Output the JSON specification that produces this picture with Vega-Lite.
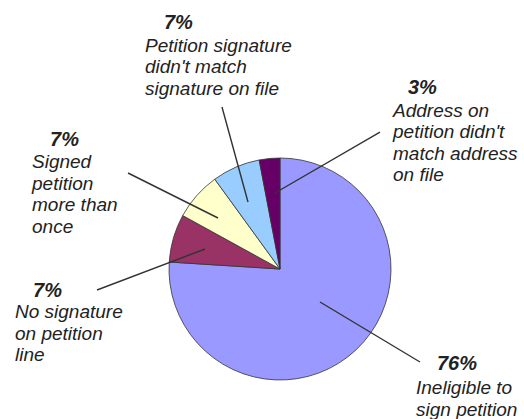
{
  "$schema": "https://vega.github.io/schema/vega-lite/v6.json",
  "width": 488,
  "height": 300,
  "padding": {"left": 36, "right": 0, "top": 119, "bottom": 0},
  "autosize": {"type": "none"},
  "background": "white",
  "config": {"view": {"stroke": null}},
  "data": {
    "values": [
      {"reason": "Ineligible to sign petition", "share": 0.76, "order": 1, "lines": ["Ineligible to", "sign petition"]},
      {"reason": "No signature on petition line", "share": 0.07, "order": 2, "lines": ["No signature", "on petition", "line"]},
      {"reason": "Signed petition more than once", "share": 0.07, "order": 3, "lines": ["Signed", "petition", "more than", "once"]},
      {"reason": "Petition signature didn't match signature on file", "share": 0.07, "order": 4, "lines": ["Petition signature", "didn't match", "signature on file"]},
      {"reason": "Address on petition didn't match address on file", "share": 0.03, "order": 5, "lines": ["Address on", "petition didn't", "match address", "on file"]}
    ]
  },
  "transform": [
    {"stack": "share", "groupby": [], "sort": [{"field": "order", "order": "ascending"}], "as": ["t0", "t1"]}
  ],
  "layer": [
    {
      "mark": {"type": "arc", "radius": 111, "stroke": "#333333", "strokeWidth": 0.8},
      "encoding": {
        "theta": {"field": "t0", "type": "quantitative", "stack": null, "scale": {"domain": [0, 1]}},
        "theta2": {"field": "t1"},
        "color": {
          "field": "reason", "type": "nominal", "legend": null,
          "scale": {
            "domain": ["Ineligible to sign petition", "No signature on petition line", "Signed petition more than once", "Petition signature didn't match signature on file", "Address on petition didn't match address on file"],
            "range": ["#9999FF", "#993366", "#FFFFCC", "#99CCFF", "#660066"]
          }
        }
      }
    },
    {
      "transform": [{"filter": "datum.order == 1"}],
      "layer": [
        {"mark": {"type": "arc", "filled": false, "stroke": "#333333", "strokeWidth": 1.4, "radius": 116.6, "radius2": 0, "thetaOffset": 2.1112, "theta2Offset": 2.1112, "xOffset": 40, "yOffset": 33},
         "encoding": {"theta": {"field": "t0", "type": "quantitative", "stack": null}, "theta2": {"field": "t0"}}},
        {"mark": {"type": "text", "radius": 111, "dx": 157, "dy": 212, "align": "left", "baseline": "alphabetic", "font": "Liberation Sans", "fontSize": 20, "fontWeight": "bold", "fontStyle": "italic", "fill": "#222222"},
         "encoding": {"theta": {"field": "t0", "type": "quantitative", "stack": null}, "text": {"field": "share", "format": ".0%"}}},
        {"mark": {"type": "text", "radius": 111, "dx": 136, "dy": 236, "align": "left", "baseline": "alphabetic", "font": "Liberation Sans", "fontSize": 19, "fontStyle": "italic", "lineHeight": 21.5, "fill": "#222222"},
         "encoding": {"theta": {"field": "t0", "type": "quantitative", "stack": null}, "text": {"field": "lines"}}}
      ]
    },
    {
      "transform": [{"filter": "datum.order == 2"}],
      "layer": [
        {"mark": {"type": "arc", "filled": false, "stroke": "#333333", "strokeWidth": 1.4, "radius": 115.5, "radius2": 0, "thetaOffset": -0.4259, "theta2Offset": -0.4259, "xOffset": -75, "yOffset": -20},
         "encoding": {"theta": {"field": "t0", "type": "quantitative", "stack": null}, "theta2": {"field": "t0"}}},
        {"mark": {"type": "text", "radius": 111, "dx": -136.2, "dy": 35, "align": "left", "baseline": "alphabetic", "font": "Liberation Sans", "fontSize": 20, "fontWeight": "bold", "fontStyle": "italic", "fill": "#222222"},
         "encoding": {"theta": {"field": "t0", "type": "quantitative", "stack": null}, "text": {"field": "share", "format": ".0%"}}},
        {"mark": {"type": "text", "radius": 111, "dx": -154.2, "dy": 56, "align": "left", "baseline": "alphabetic", "font": "Liberation Sans", "fontSize": 19, "fontStyle": "italic", "lineHeight": 21.5, "fill": "#222222"},
         "encoding": {"theta": {"field": "t0", "type": "quantitative", "stack": null}, "text": {"field": "lines"}}}
      ]
    },
    {
      "transform": [{"filter": "datum.order == 3"}],
      "layer": [
        {"mark": {"type": "arc", "filled": false, "stroke": "#333333", "strokeWidth": 1.4, "radius": 100.6, "radius2": 0, "thetaOffset": -0.0389, "theta2Offset": -0.0389, "xOffset": -62, "yOffset": -51},
         "encoding": {"theta": {"field": "t0", "type": "quantitative", "stack": null}, "theta2": {"field": "t0"}}},
        {"mark": {"type": "text", "radius": 111, "dx": -132.7, "dy": -69.5, "align": "left", "baseline": "alphabetic", "font": "Liberation Sans", "fontSize": 20, "fontWeight": "bold", "fontStyle": "italic", "fill": "#222222"},
         "encoding": {"theta": {"field": "t0", "type": "quantitative", "stack": null}, "text": {"field": "share", "format": ".0%"}}},
        {"mark": {"type": "text", "radius": 111, "dx": -150.7, "dy": -47.5, "align": "left", "baseline": "alphabetic", "font": "Liberation Sans", "fontSize": 19, "fontStyle": "italic", "lineHeight": 21.5, "fill": "#222222"},
         "encoding": {"theta": {"field": "t0", "type": "quantitative", "stack": null}, "text": {"field": "lines"}}}
      ]
    },
    {
      "transform": [{"filter": "datum.order == 4"}],
      "layer": [
        {"mark": {"type": "arc", "filled": false, "stroke": "#333333", "strokeWidth": 1.4, "radius": 98.5, "radius2": 0, "thetaOffset": 0.3611, "theta2Offset": 0.3611, "xOffset": -32, "yOffset": -67},
         "encoding": {"theta": {"field": "t0", "type": "quantitative", "stack": null}, "theta2": {"field": "t0"}}},
        {"mark": {"type": "text", "radius": 111, "dx": -50.8, "dy": -150.2, "align": "left", "baseline": "alphabetic", "font": "Liberation Sans", "fontSize": 20, "fontWeight": "bold", "fontStyle": "italic", "fill": "#222222"},
         "encoding": {"theta": {"field": "t0", "type": "quantitative", "stack": null}, "text": {"field": "share", "format": ".0%"}}},
        {"mark": {"type": "text", "radius": 111, "dx": -69.8, "dy": -127.2, "align": "left", "baseline": "alphabetic", "font": "Liberation Sans", "fontSize": 19, "fontStyle": "italic", "lineHeight": 21.5, "fill": "#222222"},
         "encoding": {"theta": {"field": "t0", "type": "quantitative", "stack": null}, "text": {"field": "lines"}}}
      ]
    },
    {
      "transform": [{"filter": "datum.order == 5"}],
      "layer": [
        {"mark": {"type": "arc", "filled": false, "stroke": "#333333", "strokeWidth": 1.4, "radius": 121.4, "radius2": 0, "thetaOffset": 1.2331, "theta2Offset": 1.2331, "xOffset": -5, "yOffset": -76},
         "encoding": {"theta": {"field": "t0", "type": "quantitative", "stack": null}, "theta2": {"field": "t0"}}},
        {"mark": {"type": "text", "radius": 111, "dx": 148.8, "dy": -66, "align": "left", "baseline": "alphabetic", "font": "Liberation Sans", "fontSize": 20, "fontWeight": "bold", "fontStyle": "italic", "fill": "#222222"},
         "encoding": {"theta": {"field": "t0", "type": "quantitative", "stack": null}, "text": {"field": "share", "format": ".0%"}}},
        {"mark": {"type": "text", "radius": 111, "dx": 133.8, "dy": -43, "align": "left", "baseline": "alphabetic", "font": "Liberation Sans", "fontSize": 19, "fontStyle": "italic", "lineHeight": 21.5, "fill": "#222222"},
         "encoding": {"theta": {"field": "t0", "type": "quantitative", "stack": null}, "text": {"field": "lines"}}}
      ]
    }
  ]
}
